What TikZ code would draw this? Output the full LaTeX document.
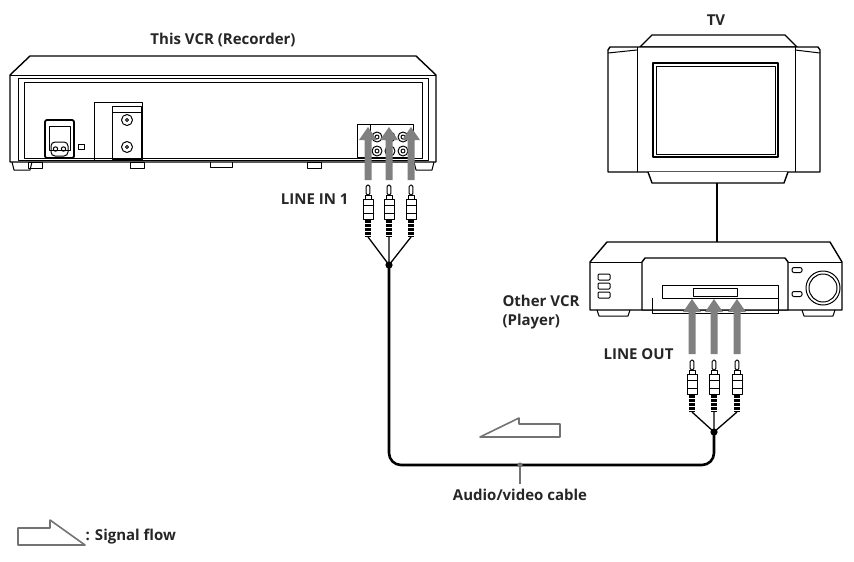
\documentclass[tikz,border=0pt]{standalone}
\usepackage{fontspec}
\setmainfont{Open Sans}
\begin{document}
\begin{tikzpicture}[x=1pt,y=-1pt,line join=round,
  dev/.style={draw=black,line width=1.4pt,fill=white},
  thin/.style={draw=black,line width=1pt},
  cable/.style={draw=black,line width=2.6pt},
  flow/.style={draw=black!55,line width=1.6pt,fill=white},
  sig/.style={fill=black!50},
  lab/.style={font=\bfseries\fontsize{15}{19}\selectfont,text=black!85}]
\useasboundingbox (0,0) rectangle (854,562);
% ---------- This VCR (rear)
\draw[dev] (10,75) -- (30,56) -- (416,56) -- (436,75) -- (436,162) -- (10,162) -- cycle;
\draw[thin] (10,75) -- (436,75);
\draw[thin] (18,78) rectangle (428,160);
\draw[thin] (24,82) rectangle (422,158);
\foreach \x in {28,130,307} \draw[thin] (\x,162) rectangle ++(14,6);
\draw[thin] (210,162) -- (210,167) -- (232,167) -- (232,162);
\draw[thin] (12,162) -- (14,170) -- (30,170) -- (32,162);
\draw[thin] (414,162) -- (416,170) -- (432,170) -- (434,162);
% power inlet
\draw[dev,line width=1.8pt,rounded corners=2pt] (45,120) rectangle (74,158);
\draw[thin] (49,126) rectangle (70,150);
\draw[thin,rounded corners=4pt] (51,142) rectangle (68,156);
\draw[thin] (55.5,149) circle (2.2) (63.5,149) circle (2.2);
\draw[thin] (78,144) rectangle (84,149);
% antenna panel
\draw[thin] (94,102) rectangle (142,160);
\draw[thin] (112,106) rectangle (141,159);
\draw[thin] (112,112) -- (141,112);
\foreach \y in {120,147}{\draw[thin] (127,\y) circle (5.5); \draw[thin] (127,\y) circle (1.5);}
% AV jack panel
\node[thin,draw,minimum width=56pt,minimum height=33pt,inner sep=0pt] (jp) at (385,141) {};
\draw[thin] (370,125) -- (370,157);
\foreach \x in {377,390,403}{\draw[thin] (\x,137) circle (5); \draw[thin] (\x,137) circle (2);
  \draw[thin] (\x,151) circle (5); \draw[thin] (\x,151) circle (2);}
\node[lab,anchor=south] at (223,50) {This VCR (Recorder)};
% ---------- TV
\draw[dev] (640,47) -- (652,35) -- (785,35) -- (797,47) -- cycle;
\draw[dev] (608,50) -- (610,47) -- (818,47) -- (820,50) -- (820,172) -- (608,172) -- cycle;
\draw[thin] (637,47) -- (637,172) (795,47) -- (795,172);
\draw[thin] (608,53) -- (637,50) (795,50) -- (820,53);
\draw[dev] (653,63) rectangle (778,157);
\draw[thin] (656,66) rectangle (775,154);
\draw[dev] (648,172) -- (652,183) -- (784,183) -- (788,172);
\node[lab,anchor=south] (tvl) at (716,29) {TV};
\draw[cable,line width=2.2pt] (717,183) -- (717,242);
% ---------- Other VCR (front)
\draw[dev] (590,262) -- (607,242) -- (830,242) -- (842,262) -- (842,310) -- (590,310) -- cycle;
\draw[thin] (590,262) -- (842,262);
\draw[dev] (642,262) -- (645,258) -- (785,258) -- (788,262) -- (788,310) -- (642,310) -- cycle;
\draw[thin] (662,285) rectangle (778,298);
\draw[thin] (693,288) rectangle (737,296);
\draw[thin] (652,298) -- (652,313) -- (778,313) -- (778,298);
\foreach \y in {277,286,295} \draw[thin,rounded corners=1pt] (598,\y-3) rectangle (610,\y+3);
\foreach \y in {270,294} \draw[thin,rounded corners=2pt] (792,\y-2.5) rectangle (802,\y+2.5);
\draw[thin] (823,288) circle (17) (823,288) circle (14);
\draw[thin] (597,310) -- (599,316) -- (628,316) -- (630,310);
\draw[thin] (802,310) -- (804,316) -- (833,316) -- (835,310);
\node[lab,align=left,anchor=east] at (583,312) {Other VCR\\(Player)};
% ---------- plugs
\newcommand{\plug}[2]{%
  \fill[white] (#1-4,#2) rectangle (#1+4,#2+52);
  \draw[thin,rounded corners=1.5pt] (#1-1.8,#2) rectangle (#1+1.8,#2+10);
  \draw[thin] (#1-3,#2+10) rectangle (#1+3,#2+14);
  \draw[thin,fill=white] (#1-5,#2+14) rectangle (#1+5,#2+34);
  \draw[thin] (#1-5,#2+20) -- (#1+5,#2+20) (#1-5,#2+28) -- (#1+5,#2+28);
  \fill (#1-3,#2+34) rectangle (#1+3,#2+52);
  \foreach \k in {38,42,46,50} \draw[white,line width=0.5pt] (#1-3,#2+\k) -- (#1+3,#2+\k);}
\foreach \x in {368,389,411} \plug{\x}{185};
\foreach \x in {692,714,737} \plug{\x}{360};
\coordinate (j1) at (389,265);
\coordinate (j2) at (714,432);
\draw[thin,line width=1.3pt] (368,237) -- (j1) (389,237) -- (j1) (411,237) -- (j1);
\draw[thin,line width=1.3pt] (692,412) -- (j2) (714,412) -- (j2) (737,412) -- (j2);
\fill (j1) circle (3.6) (j2) circle (3.6);
\draw[cable,rounded corners=12pt] (j1) -- (389,465) -- (714,465) -- (j2);
% signal arrows
\foreach \x in {368,389,411} \fill[sig] (\x-3.5,180) -- (\x-3.5,140) -- (\x-9,140) -- (\x,127) -- (\x+9,140) -- (\x+3.5,140) -- (\x+3.5,180) -- cycle;
\foreach \x in {692,714,737} \fill[sig] (\x-3.5,354) -- (\x-3.5,312) -- (\x-9,312) -- (\x,299) -- (\x+9,312) -- (\x+3.5,312) -- (\x+3.5,354) -- cycle;
\node[lab,anchor=east] at (352,199) {LINE IN 1};
\node[lab,anchor=east] at (677,354) {LINE OUT};
% flow marker and cable label
\draw[flow] (480,437) -- (519,418) -- (519,424) -- (560,424) -- (560,437) -- cycle;
\fill[black!55] (520,465) circle (2.6);
\draw[black!55,line width=1.6pt] (520,465) -- (520,484);
\node[lab,anchor=north] at (520,486) {Audio/video cable};
\draw[flow] (18,528) -- (50,528) -- (50,520) -- (85,545) -- (18,545) -- cycle;
\node[lab,anchor=west] at (82,537) {: Signal flow};
\end{tikzpicture}
\end{document}
